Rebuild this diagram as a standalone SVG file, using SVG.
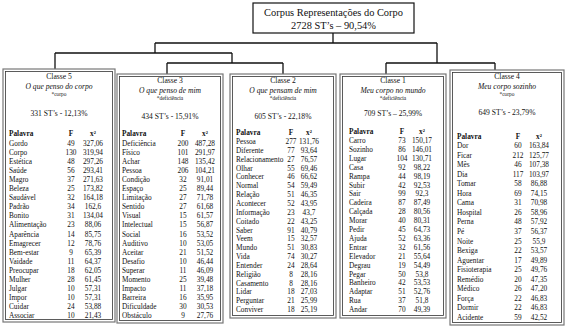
<svg xmlns="http://www.w3.org/2000/svg" width="567" height="328" viewBox="0 0 567 328">
<defs>
<style>
text{font-family:"Liberation Serif","Times New Roman",serif;fill:#111;}
.t{font-size:10.4px;text-anchor:middle;}
.c{font-size:7.6px;text-anchor:middle;}
.s{font-size:7.6px;text-anchor:middle;font-style:italic;}
.m{font-size:5.4px;text-anchor:middle;}
.r{font-size:7.3px;}
.h{font-size:7.3px;font-weight:bold;}
.n{font-size:7.3px;text-anchor:middle;}
.hn{font-size:7.3px;font-weight:bold;text-anchor:middle;}
.o{fill:#fff;stroke:#777;stroke-width:1.2;}
.i{fill:none;stroke:#333;stroke-width:0.8;}
.ln{fill:none;stroke:#111;stroke-width:1.3;}
</style>
</defs>
<rect width="567" height="328" fill="#fff"/>
<g id="connectors">
<path class="ln" d="M333 33V43M155 43H437M155 43V53M55 53H232M55 53V69M232 53V63M167 63H283M167 63V74M283 63V74M437 43V63M386 63H495M386 63V74M495 63V70"/>
</g>
<g id="root">
<rect x="253" y="3" width="161" height="30" fill="#fff" stroke="#111" stroke-width="1.2"/>
<text class="t" x="333.5" y="15.5">Corpus Representações do Corpo</text>
<text class="t" x="333.5" y="28.5">2728 ST’s – 90,54%</text>
</g>
<g id="classe5">
<rect class="o" x="3" y="69" width="112" height="253"/>
<rect class="i" x="5.5" y="71.5" width="107" height="248"/>
<text class="c" x="59" y="79">Classe 5</text>
<text class="s" x="59" y="89">O que penso do corpo</text>
<text class="m" x="59" y="96">*corpo</text>
<text class="c" x="59" y="116">331 ST’s - 12,13%</text>
<text class="h" x="9" y="136">Palavra</text><text class="hn" x="71" y="136">F</text><text class="hn" x="93" y="136">x²</text>
<g transform="translate(0,145.5)">
<text class="r" x="9" y="0">Gordo</text><text class="n" x="71" y="0">49</text><text class="n" x="93" y="0">327,06</text>
<text class="r" x="9" y="9.1">Corpo</text><text class="n" x="71" y="9.1">130</text><text class="n" x="93" y="9.1">319,94</text>
<text class="r" x="9" y="18.2">Estética</text><text class="n" x="71" y="18.2">48</text><text class="n" x="93" y="18.2">297,26</text>
<text class="r" x="9" y="27.3">Saúde</text><text class="n" x="71" y="27.3">56</text><text class="n" x="93" y="27.3">293,41</text>
<text class="r" x="9" y="36.4">Magro</text><text class="n" x="71" y="36.4">37</text><text class="n" x="93" y="36.4">271,63</text>
<text class="r" x="9" y="45.5">Beleza</text><text class="n" x="71" y="45.5">25</text><text class="n" x="93" y="45.5">173,82</text>
<text class="r" x="9" y="54.6">Saudável</text><text class="n" x="71" y="54.6">32</text><text class="n" x="93" y="54.6">164,18</text>
<text class="r" x="9" y="63.7">Padrão</text><text class="n" x="71" y="63.7">34</text><text class="n" x="93" y="63.7">162,6</text>
<text class="r" x="9" y="72.8">Bonito</text><text class="n" x="71" y="72.8">31</text><text class="n" x="93" y="72.8">134,04</text>
<text class="r" x="9" y="81.9">Alimentação</text><text class="n" x="71" y="81.9">23</text><text class="n" x="93" y="81.9">88,06</text>
<text class="r" x="9" y="91">Aparência</text><text class="n" x="71" y="91">14</text><text class="n" x="93" y="91">85,75</text>
<text class="r" x="9" y="100.1">Emagrecer</text><text class="n" x="71" y="100.1">12</text><text class="n" x="93" y="100.1">78,76</text>
<text class="r" x="9" y="109.2">Bem-estar</text><text class="n" x="71" y="109.2">9</text><text class="n" x="93" y="109.2">65,39</text>
<text class="r" x="9" y="118.3">Vaidade</text><text class="n" x="71" y="118.3">11</text><text class="n" x="93" y="118.3">64,37</text>
<text class="r" x="9" y="127.4">Preocupar</text><text class="n" x="71" y="127.4">18</text><text class="n" x="93" y="127.4">62,05</text>
<text class="r" x="9" y="136.5">Mulher</text><text class="n" x="71" y="136.5">28</text><text class="n" x="93" y="136.5">61,45</text>
<text class="r" x="9" y="145.6">Julgar</text><text class="n" x="71" y="145.6">10</text><text class="n" x="93" y="145.6">57,31</text>
<text class="r" x="9" y="154.7">Impor</text><text class="n" x="71" y="154.7">10</text><text class="n" x="93" y="154.7">57,31</text>
<text class="r" x="9" y="163.8">Cuidar</text><text class="n" x="71" y="163.8">24</text><text class="n" x="93" y="163.8">53,88</text>
<text class="r" x="9" y="172.9">Associar</text><text class="n" x="71" y="172.9">10</text><text class="n" x="93" y="172.9">21,43</text>
</g>
</g>
<g id="classe3">
<rect class="o" x="117" y="74" width="106" height="249"/>
<rect class="i" x="119.5" y="76.5" width="101" height="244"/>
<text class="c" x="170" y="83">Classe 3</text>
<text class="s" x="170" y="93">O que penso de mim</text>
<text class="m" x="170" y="100">*deficiência</text>
<text class="c" x="170" y="119">434 ST’s - 15,91%</text>
<text class="h" x="122" y="136">Palavra</text><text class="hn" x="183" y="136">F</text><text class="hn" x="205" y="136">x²</text>
<g transform="translate(0,145.5)">
<text class="r" x="122" y="0">Deficiência</text><text class="n" x="183" y="0">200</text><text class="n" x="205" y="0">487,28</text>
<text class="r" x="122" y="9.1">Físico</text><text class="n" x="183" y="9.1">101</text><text class="n" x="205" y="9.1">291,97</text>
<text class="r" x="122" y="18.2">Achar</text><text class="n" x="183" y="18.2">148</text><text class="n" x="205" y="18.2">135,42</text>
<text class="r" x="122" y="27.3">Pessoa</text><text class="n" x="183" y="27.3">206</text><text class="n" x="205" y="27.3">104,21</text>
<text class="r" x="122" y="36.4">Condição</text><text class="n" x="183" y="36.4">32</text><text class="n" x="205" y="36.4">91,01</text>
<text class="r" x="122" y="45.5">Espaço</text><text class="n" x="183" y="45.5">25</text><text class="n" x="205" y="45.5">89,44</text>
<text class="r" x="122" y="54.6">Limitação</text><text class="n" x="183" y="54.6">27</text><text class="n" x="205" y="54.6">71,78</text>
<text class="r" x="122" y="63.7">Sentido</text><text class="n" x="183" y="63.7">27</text><text class="n" x="205" y="63.7">61,68</text>
<text class="r" x="122" y="72.8">Visual</text><text class="n" x="183" y="72.8">15</text><text class="n" x="205" y="72.8">61,57</text>
<text class="r" x="122" y="81.9">Intelectual</text><text class="n" x="183" y="81.9">15</text><text class="n" x="205" y="81.9">56,87</text>
<text class="r" x="122" y="91">Social</text><text class="n" x="183" y="91">16</text><text class="n" x="205" y="91">53,52</text>
<text class="r" x="122" y="100.1">Auditivo</text><text class="n" x="183" y="100.1">10</text><text class="n" x="205" y="100.1">53,05</text>
<text class="r" x="122" y="109.2">Aceitar</text><text class="n" x="183" y="109.2">21</text><text class="n" x="205" y="109.2">51,52</text>
<text class="r" x="122" y="118.3">Desafio</text><text class="n" x="183" y="118.3">10</text><text class="n" x="205" y="118.3">46,44</text>
<text class="r" x="122" y="127.4">Superar</text><text class="n" x="183" y="127.4">11</text><text class="n" x="205" y="127.4">46,09</text>
<text class="r" x="122" y="136.5">Momento</text><text class="n" x="183" y="136.5">25</text><text class="n" x="205" y="136.5">39,48</text>
<text class="r" x="122" y="145.6">Impacto</text><text class="n" x="183" y="145.6">11</text><text class="n" x="205" y="145.6">37,18</text>
<text class="r" x="122" y="154.7">Barreira</text><text class="n" x="183" y="154.7">16</text><text class="n" x="205" y="154.7">35,95</text>
<text class="r" x="122" y="163.8">Dificuldade</text><text class="n" x="183" y="163.8">30</text><text class="n" x="205" y="163.8">30,53</text>
<text class="r" x="122" y="172.9">Obstáculo</text><text class="n" x="183" y="172.9">9</text><text class="n" x="205" y="172.9">27,76</text>
</g>
</g>
<g id="classe2">
<rect class="o" x="230" y="74" width="106" height="244"/>
<rect class="i" x="232.5" y="76.5" width="101" height="239"/>
<text class="c" x="283" y="83">Classe 2</text>
<text class="s" x="283" y="93">O que pensam de mim</text>
<text class="m" x="283" y="100">*deficiência</text>
<text class="c" x="283" y="119">605 ST’s - 22,18%</text>
<text class="h" x="236" y="135">Palavra</text><text class="hn" x="291" y="135">F</text><text class="hn" x="309" y="135">x²</text>
<g transform="translate(0,144)">
<text class="r" x="236" y="0">Pessoa</text><text class="n" x="291" y="0">277</text><text class="n" x="309" y="0">131,76</text>
<text class="r" x="236" y="8.85">Diferente</text><text class="n" x="291" y="8.85">77</text><text class="n" x="309" y="8.85">93,64</text>
<text class="r" x="236" y="17.7">Relacionamento</text><text class="n" x="291" y="17.7">27</text><text class="n" x="309" y="17.7">76,57</text>
<text class="r" x="236" y="26.55">Olhar</text><text class="n" x="291" y="26.55">55</text><text class="n" x="309" y="26.55">69,46</text>
<text class="r" x="236" y="35.4">Conhecer</text><text class="n" x="291" y="35.4">46</text><text class="n" x="309" y="35.4">66,62</text>
<text class="r" x="236" y="44.25">Normal</text><text class="n" x="291" y="44.25">54</text><text class="n" x="309" y="44.25">59,49</text>
<text class="r" x="236" y="53.1">Relação</text><text class="n" x="291" y="53.1">51</text><text class="n" x="309" y="53.1">46,35</text>
<text class="r" x="236" y="61.95">Acontecer</text><text class="n" x="291" y="61.95">52</text><text class="n" x="309" y="61.95">43,95</text>
<text class="r" x="236" y="70.8">Informação</text><text class="n" x="291" y="70.8">23</text><text class="n" x="309" y="70.8">43,7</text>
<text class="r" x="236" y="79.65">Coitado</text><text class="n" x="291" y="79.65">22</text><text class="n" x="309" y="79.65">43,25</text>
<text class="r" x="236" y="88.5">Saber</text><text class="n" x="291" y="88.5">91</text><text class="n" x="309" y="88.5">40,79</text>
<text class="r" x="236" y="97.35">Veem</text><text class="n" x="291" y="97.35">15</text><text class="n" x="309" y="97.35">32,57</text>
<text class="r" x="236" y="106.2">Mundo</text><text class="n" x="291" y="106.2">51</text><text class="n" x="309" y="106.2">30,83</text>
<text class="r" x="236" y="115.05">Vida</text><text class="n" x="291" y="115.05">74</text><text class="n" x="309" y="115.05">30,27</text>
<text class="r" x="236" y="123.9">Entender</text><text class="n" x="291" y="123.9">24</text><text class="n" x="309" y="123.9">28,64</text>
<text class="r" x="236" y="132.75">Religião</text><text class="n" x="291" y="132.75">8</text><text class="n" x="309" y="132.75">28,16</text>
<text class="r" x="236" y="141.6">Casamento</text><text class="n" x="291" y="141.6">8</text><text class="n" x="309" y="141.6">28,16</text>
<text class="r" x="236" y="150.45">Lidar</text><text class="n" x="291" y="150.45">18</text><text class="n" x="309" y="150.45">27,03</text>
<text class="r" x="236" y="159.3">Perguntar</text><text class="n" x="291" y="159.3">21</text><text class="n" x="309" y="159.3">25,99</text>
<text class="r" x="236" y="168.15">Conviver</text><text class="n" x="291" y="168.15">18</text><text class="n" x="309" y="168.15">25,19</text>
</g>
</g>
<g id="classe1">
<rect class="o" x="340" y="74" width="106" height="244"/>
<rect class="i" x="342.5" y="76.5" width="101" height="239"/>
<text class="c" x="393" y="83">Classe 1</text>
<text class="s" x="393" y="93">Meu corpo no mundo</text>
<text class="m" x="393" y="100">*deficiência</text>
<text class="c" x="393" y="116">709 ST’s – 25,99%</text>
<text class="h" x="349" y="134">Palavra</text><text class="hn" x="402" y="134">F</text><text class="hn" x="422" y="134">x²</text>
<g transform="translate(0,143)">
<text class="r" x="349" y="0">Carro</text><text class="n" x="402" y="0">73</text><text class="n" x="422" y="0">150,17</text>
<text class="r" x="349" y="8.9">Sozinho</text><text class="n" x="402" y="8.9">86</text><text class="n" x="422" y="8.9">146,01</text>
<text class="r" x="349" y="17.8">Lugar</text><text class="n" x="402" y="17.8">104</text><text class="n" x="422" y="17.8">130,71</text>
<text class="r" x="349" y="26.7">Casa</text><text class="n" x="402" y="26.7">92</text><text class="n" x="422" y="26.7">98,22</text>
<text class="r" x="349" y="35.6">Rampa</text><text class="n" x="402" y="35.6">44</text><text class="n" x="422" y="35.6">98,19</text>
<text class="r" x="349" y="44.5">Subir</text><text class="n" x="402" y="44.5">42</text><text class="n" x="422" y="44.5">92,53</text>
<text class="r" x="349" y="53.4">Sair</text><text class="n" x="402" y="53.4">99</text><text class="n" x="422" y="53.4">92,3</text>
<text class="r" x="349" y="62.3">Cadeira</text><text class="n" x="402" y="62.3">87</text><text class="n" x="422" y="62.3">87,49</text>
<text class="r" x="349" y="71.2">Calçada</text><text class="n" x="402" y="71.2">28</text><text class="n" x="422" y="71.2">80,56</text>
<text class="r" x="349" y="80.1">Morar</text><text class="n" x="402" y="80.1">40</text><text class="n" x="422" y="80.1">80,31</text>
<text class="r" x="349" y="89">Pedir</text><text class="n" x="402" y="89">45</text><text class="n" x="422" y="89">64,73</text>
<text class="r" x="349" y="97.9">Ajuda</text><text class="n" x="402" y="97.9">52</text><text class="n" x="422" y="97.9">63,36</text>
<text class="r" x="349" y="106.8">Entrar</text><text class="n" x="402" y="106.8">32</text><text class="n" x="422" y="106.8">61,56</text>
<text class="r" x="349" y="115.7">Elevador</text><text class="n" x="402" y="115.7">21</text><text class="n" x="422" y="115.7">55,64</text>
<text class="r" x="349" y="124.6">Degrau</text><text class="n" x="402" y="124.6">19</text><text class="n" x="422" y="124.6">54,49</text>
<text class="r" x="349" y="133.5">Pegar</text><text class="n" x="402" y="133.5">50</text><text class="n" x="422" y="133.5">53,8</text>
<text class="r" x="349" y="142.4">Banheiro</text><text class="n" x="402" y="142.4">42</text><text class="n" x="422" y="142.4">53,53</text>
<text class="r" x="349" y="151.3">Adaptar</text><text class="n" x="402" y="151.3">51</text><text class="n" x="422" y="151.3">52,76</text>
<text class="r" x="349" y="160.2">Rua</text><text class="n" x="402" y="160.2">37</text><text class="n" x="422" y="160.2">51,8</text>
<text class="r" x="349" y="169.1">Andar</text><text class="n" x="402" y="169.1">70</text><text class="n" x="422" y="169.1">49,39</text>
</g>
</g>
<g id="classe4">
<rect class="o" x="450" y="70" width="114" height="255"/>
<rect class="i" x="452.5" y="72.5" width="109" height="250"/>
<text class="c" x="507" y="79">Classe 4</text>
<text class="s" x="507" y="89">Meu corpo sozinho</text>
<text class="m" x="507" y="96">*corpo</text>
<text class="c" x="507" y="115">649 ST’s - 23,79%</text>
<text class="h" x="457" y="139">Palavra</text><text class="hn" x="518" y="139">F</text><text class="hn" x="539" y="139">x²</text>
<g transform="translate(0,148)">
<text class="r" x="457" y="0">Dor</text><text class="n" x="518" y="0">60</text><text class="n" x="539" y="0">163,84</text>
<text class="r" x="457" y="9.55">Ficar</text><text class="n" x="518" y="9.55">212</text><text class="n" x="539" y="9.55">125,77</text>
<text class="r" x="457" y="19.1">Mês</text><text class="n" x="518" y="19.1">46</text><text class="n" x="539" y="19.1">107,38</text>
<text class="r" x="457" y="28.65">Dia</text><text class="n" x="518" y="28.65">117</text><text class="n" x="539" y="28.65">103,97</text>
<text class="r" x="457" y="38.2">Tomar</text><text class="n" x="518" y="38.2">58</text><text class="n" x="539" y="38.2">86,88</text>
<text class="r" x="457" y="47.75">Hora</text><text class="n" x="518" y="47.75">69</text><text class="n" x="539" y="47.75">74,15</text>
<text class="r" x="457" y="57.3">Cama</text><text class="n" x="518" y="57.3">31</text><text class="n" x="539" y="57.3">70,98</text>
<text class="r" x="457" y="66.85">Hospital</text><text class="n" x="518" y="66.85">26</text><text class="n" x="539" y="66.85">58,96</text>
<text class="r" x="457" y="76.4">Perna</text><text class="n" x="518" y="76.4">48</text><text class="n" x="539" y="76.4">57,92</text>
<text class="r" x="457" y="85.95">Pé</text><text class="n" x="518" y="85.95">37</text><text class="n" x="539" y="85.95">56,37</text>
<text class="r" x="457" y="95.5">Noite</text><text class="n" x="518" y="95.5">25</text><text class="n" x="539" y="95.5">55,9</text>
<text class="r" x="457" y="105.05">Bexiga</text><text class="n" x="518" y="105.05">22</text><text class="n" x="539" y="105.05">53,57</text>
<text class="r" x="457" y="114.6">Aguentar</text><text class="n" x="518" y="114.6">17</text><text class="n" x="539" y="114.6">49,89</text>
<text class="r" x="457" y="124.15">Fisioterapia</text><text class="n" x="518" y="124.15">25</text><text class="n" x="539" y="124.15">49,76</text>
<text class="r" x="457" y="133.7">Remédio</text><text class="n" x="518" y="133.7">20</text><text class="n" x="539" y="133.7">47,35</text>
<text class="r" x="457" y="143.25">Médico</text><text class="n" x="518" y="143.25">26</text><text class="n" x="539" y="143.25">47,20</text>
<text class="r" x="457" y="152.8">Força</text><text class="n" x="518" y="152.8">22</text><text class="n" x="539" y="152.8">46,83</text>
<text class="r" x="457" y="162.35">Dormir</text><text class="n" x="518" y="162.35">22</text><text class="n" x="539" y="162.35">46,83</text>
<text class="r" x="457" y="171.9">Acidente</text><text class="n" x="518" y="171.9">59</text><text class="n" x="539" y="171.9">42,52</text>
</g>
</g>
</svg>
